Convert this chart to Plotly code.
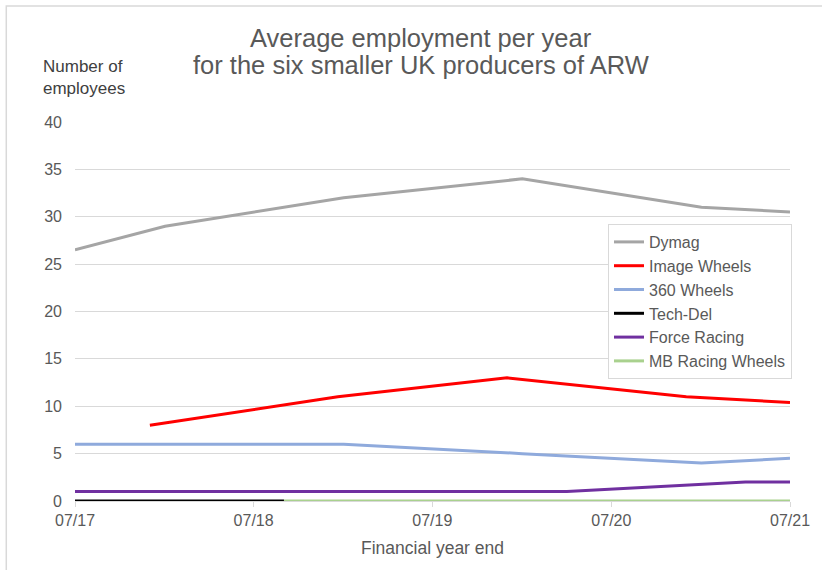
import plotly.graph_objects as go

# ---- data ----
dymag_x = ["2017-07-01", "2018-01-01", "2019-01-01", "2020-01-01", "2021-01-01", "2021-07-01"]
dymag_y = [26.5, 29, 32, 34, 31, 30.5]

image_x = ["2017-12-01", "2018-12-20", "2019-12-01", "2020-12-01", "2021-07-01"]
image_y = [8, 11, 13, 11, 10.4]

w360_x = ["2017-07-01", "2018-01-01", "2019-01-01", "2020-01-01", "2021-01-01", "2021-07-01"]
w360_y = [6, 6, 6, 5, 4, 4.5]

techdel_x = ["2017-07-01", "2018-09-01"]
techdel_y = [0, 0]

force_x = ["2017-07-01", "2018-04-01", "2019-04-01", "2020-04-01", "2021-04-01", "2021-07-01"]
force_y = [1, 1, 1, 1, 2, 2]

mb_x = ["2018-09-01", "2019-09-01", "2020-09-01", "2021-07-01"]
mb_y = [0, 0, 0, 0]

series = [
    ("Dymag", dymag_x, dymag_y, "#a5a5a5"),
    ("Image Wheels", image_x, image_y, "#ff0000"),
    ("360 Wheels", w360_x, w360_y, "#8faadc"),
    ("Tech-Del", techdel_x, techdel_y, "#000000"),
    ("Force Racing", force_x, force_y, "#7030a0"),
    ("MB Racing Wheels", mb_x, mb_y, "#a9d18e"),
]

FONT = "Liberation Sans, Arial, sans-serif"
TXT = "#595959"

fig = go.Figure()
for name, xs, ys, col in series:
    fig.add_trace(go.Scatter(x=xs, y=ys, name=name, mode="lines",
                             line=dict(color=col, width=3), cliponaxis=False))

W, H = 822, 570
L, R, T, B = 75, 29, 122, 69
pw, ph = W - L - R, H - T - B

def px(x):
    return (x - L) / pw

def py(y):
    return (H - B - y) / ph

fig.update_layout(
    width=W, height=H,
    margin=dict(l=L, r=R, t=T, b=B),
    paper_bgcolor="white", plot_bgcolor="white",
    font=dict(family=FONT, color=TXT, size=16),
    showlegend=True,
    legend=dict(x=px(795), xanchor="right", y=py(224), yanchor="top",
                bordercolor="#d9d9d9", borderwidth=1, bgcolor="white",
                font=dict(size=16, color=TXT), itemwidth=30,
                tracegroupgap=0),
    xaxis=dict(type="date", range=["2017-07-01", "2021-07-01"],
               tick0="2017-07-01", dtick="M12", tickformat="%m/%y",
               showgrid=False, showline=True, linecolor="#d9d9d9",
               ticks="outside", ticklen=5, tickcolor="#d9d9d9",
               tickfont=dict(size=16, color=TXT), zeroline=False),
    yaxis=dict(range=[0, 40], dtick=5, showgrid=True, gridcolor="#d9d9d9",
               gridwidth=1, zeroline=False, showline=False,
               ticklabelstandoff=12, tickfont=dict(size=16, color=TXT)),
    annotations=[
        dict(text="Average employment per year", xref="paper", yref="paper",
             x=px(422), y=py(38), xanchor="center", yanchor="middle",
             showarrow=False, font=dict(size=25.5, color=TXT)),
        dict(text="for the six smaller UK producers of ARW", xref="paper", yref="paper",
             x=px(422), y=py(65), xanchor="center", yanchor="middle",
             showarrow=False, font=dict(size=25.5, color=TXT)),
        dict(text="Number of<br>employees", xref="paper", yref="paper",
             x=px(41), y=py(78), xanchor="left", yanchor="middle", align="left",
             showarrow=False, font=dict(size=17, color="#404040")),
        dict(text="Financial year end", xref="paper", yref="paper",
             x=px(434), y=py(548), xanchor="center", yanchor="middle",
             showarrow=False, font=dict(size=17.5, color=TXT)),
    ],
    shapes=[dict(type="rect", xref="paper", yref="paper",
                 x0=px(6), y0=py(580), x1=px(840), y1=py(6),
                 line=dict(color="#d9d9d9", width=1.5), layer="below")],
)

fig.write_html("out.html")
